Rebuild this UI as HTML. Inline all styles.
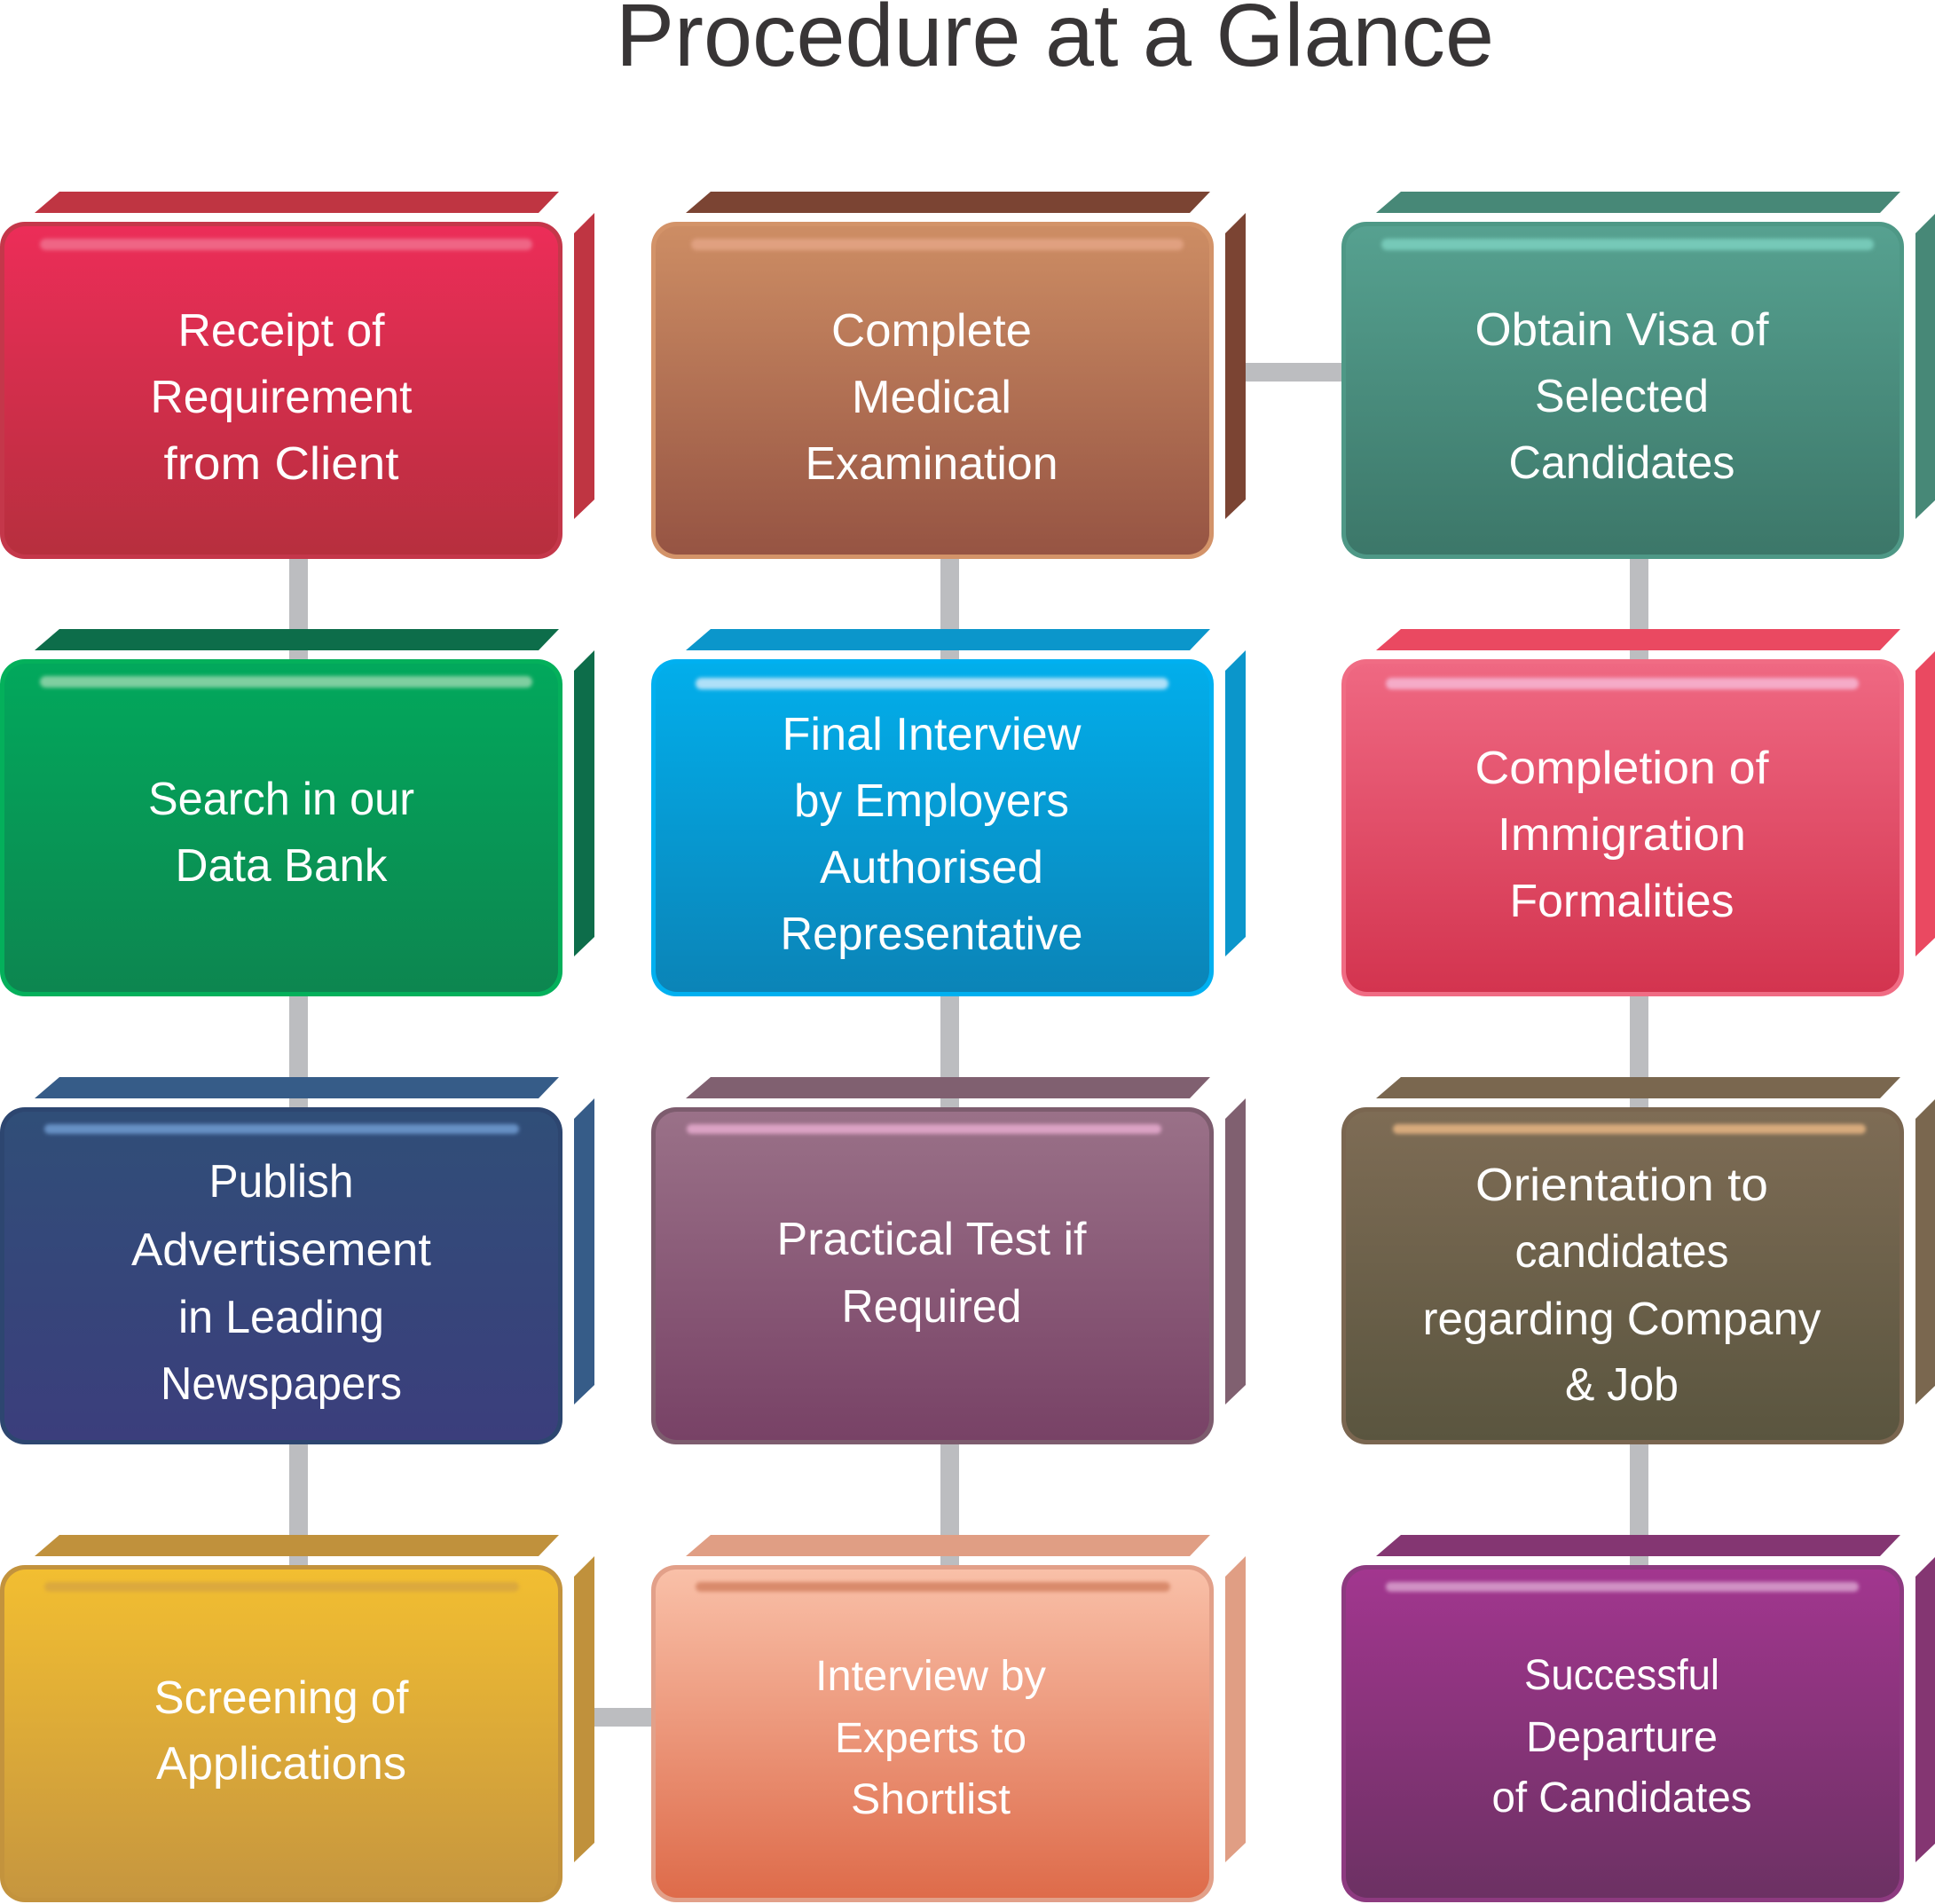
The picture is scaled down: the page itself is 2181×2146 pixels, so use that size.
<!DOCTYPE html>
<html>
<head>
<meta charset="utf-8">
<style>
  html, body { margin: 0; padding: 0; background: #ffffff; }
  svg { display: block; }
  .t { font-family: "Liberation Sans", "DejaVu Sans", sans-serif; fill: #ffffff; text-anchor: middle; }
</style>
</head>
<body>
<svg width="2181" height="2146" viewBox="0 0 2181 2146" xmlns="http://www.w3.org/2000/svg">
  <defs>
    <filter id="blur" x="-5%" y="-100%" width="110%" height="300%">
      <feGaussianBlur stdDeviation="2.2"/>
    </filter>
    <linearGradient id="g1" x1="0" y1="0" x2="0" y2="1"><stop offset="0" stop-color="#ec2d58"/><stop offset="1" stop-color="#b72f3e"/></linearGradient>
    <linearGradient id="g2" x1="0" y1="0" x2="0" y2="1"><stop offset="0" stop-color="#cd8d64"/><stop offset="1" stop-color="#965443"/></linearGradient>
    <linearGradient id="g3" x1="0" y1="0" x2="0" y2="1"><stop offset="0" stop-color="#56a190"/><stop offset="1" stop-color="#3c7769"/></linearGradient>
    <linearGradient id="g4" x1="0" y1="0" x2="0" y2="1"><stop offset="0" stop-color="#02a85c"/><stop offset="1" stop-color="#0d8650"/></linearGradient>
    <linearGradient id="g5" x1="0" y1="0" x2="0" y2="1"><stop offset="0" stop-color="#02aeeb"/><stop offset="1" stop-color="#0b84b7"/></linearGradient>
    <linearGradient id="g6" x1="0" y1="0" x2="0" y2="1"><stop offset="0" stop-color="#ef6882"/><stop offset="1" stop-color="#d3344f"/></linearGradient>
    <linearGradient id="g7" x1="0" y1="0" x2="0" y2="1"><stop offset="0" stop-color="#304e78"/><stop offset="1" stop-color="#3b3e7c"/></linearGradient>
    <linearGradient id="g8" x1="0" y1="0" x2="0" y2="1"><stop offset="0" stop-color="#9a7188"/><stop offset="1" stop-color="#784266"/></linearGradient>
    <linearGradient id="g9" x1="0" y1="0" x2="0" y2="1"><stop offset="0" stop-color="#7e6c55"/><stop offset="1" stop-color="#5a553f"/></linearGradient>
    <linearGradient id="g10" x1="0" y1="0" x2="0" y2="1"><stop offset="0" stop-color="#f2be31"/><stop offset="1" stop-color="#c6963f"/></linearGradient>
    <linearGradient id="g11" x1="0" y1="0" x2="0" y2="1"><stop offset="0" stop-color="#f9c0a8"/><stop offset="1" stop-color="#de6b4a"/></linearGradient>
    <linearGradient id="g12" x1="0" y1="0" x2="0" y2="1"><stop offset="0" stop-color="#a2368f"/><stop offset="1" stop-color="#6c3163"/></linearGradient>
  </defs>

  <!-- Title -->
  <text x="1189" y="74" font-family="'Liberation Sans', Arial, sans-serif" font-size="100" text-anchor="middle" textLength="990" lengthAdjust="spacingAndGlyphs" fill="#383536">Procedure at a Glance</text>

  <!-- Connectors -->
  <g fill="#bcbdc0">
    <rect x="326" y="620" width="21" height="1150"/>
    <rect x="1060" y="620" width="21" height="1150"/>
    <rect x="1837" y="620" width="21" height="1150"/>
    <rect x="1395" y="409" width="125" height="21"/>
    <rect x="660" y="1925" width="80" height="21"/>
  </g>

  <!-- R1C1 -->
  <g transform="translate(0,250)">
    <polygon points="67,-34 630,-34 607,-10 39,-10" fill="#bf3542"/>
    <polygon points="647,13 670,-10 670,313 647,335" fill="#bf3542"/>
    <rect x="0" y="0" width="634" height="380" rx="28" fill="#c4374a"/>
    <rect x="5" y="5" width="624" height="370" rx="24" fill="url(#g1)"/>
    <rect x="45" y="19" width="555" height="13" rx="6.5" fill="#ef6585" filter="url(#blur)"/>
    <text class="t" font-size="52" x="317" y="140" textLength="233" lengthAdjust="spacingAndGlyphs">Receipt of</text>
    <text class="t" font-size="52" x="317" y="215" textLength="295" lengthAdjust="spacingAndGlyphs">Requirement</text>
    <text class="t" font-size="52" x="317" y="290" textLength="265" lengthAdjust="spacingAndGlyphs">from Client</text>
  </g>

  <!-- R1C2 -->
  <g transform="translate(734,250)">
    <polygon points="67,-34 630,-34 607,-10 39,-10" fill="#7b4433"/>
    <polygon points="647,13 670,-10 670,313 647,335" fill="#7b4433"/>
    <rect x="0" y="0" width="634" height="380" rx="28" fill="#d39369"/>
    <rect x="5" y="5" width="624" height="370" rx="24" fill="url(#g2)"/>
    <rect x="45" y="19" width="555" height="13" rx="6.5" fill="#e0a080" filter="url(#blur)"/>
    <text class="t" font-size="52" x="316" y="140" textLength="226" lengthAdjust="spacingAndGlyphs">Complete</text>
    <text class="t" font-size="52" x="316" y="215" textLength="180" lengthAdjust="spacingAndGlyphs">Medical</text>
    <text class="t" font-size="52" x="316" y="290" textLength="285" lengthAdjust="spacingAndGlyphs">Examination</text>
  </g>

  <!-- R1C3 -->
  <g transform="translate(1512,250)">
    <polygon points="67,-34 630,-34 607,-10 39,-10" fill="#478877"/>
    <polygon points="647,13 670,-10 670,313 647,335" fill="#478877"/>
    <rect x="0" y="0" width="634" height="380" rx="28" fill="#4e9886"/>
    <rect x="5" y="5" width="624" height="370" rx="24" fill="url(#g3)"/>
    <rect x="45" y="19" width="555" height="13" rx="6.5" fill="#76c9b8" filter="url(#blur)"/>
    <text class="t" font-size="52" x="316" y="139" textLength="331" lengthAdjust="spacingAndGlyphs">Obtain Visa of</text>
    <text class="t" font-size="52" x="316" y="214" textLength="196" lengthAdjust="spacingAndGlyphs">Selected</text>
    <text class="t" font-size="52" x="316" y="289" textLength="255" lengthAdjust="spacingAndGlyphs">Candidates</text>
  </g>

  <!-- R2C1 -->
  <g transform="translate(0,743)">
    <polygon points="67,-34 630,-34 607,-10 39,-10" fill="#0d6d4a"/>
    <polygon points="647,13 670,-10 670,313 647,335" fill="#0d6d4a"/>
    <rect x="0" y="0" width="634" height="380" rx="28" fill="#04b05b"/>
    <rect x="5" y="5" width="624" height="370" rx="24" fill="url(#g4)"/>
    <rect x="45" y="19" width="555" height="13" rx="6.5" fill="#7fcfa0" filter="url(#blur)"/>
    <text class="t" font-size="52" x="317" y="175" textLength="300" lengthAdjust="spacingAndGlyphs">Search in our</text>
    <text class="t" font-size="52" x="317" y="250" textLength="239" lengthAdjust="spacingAndGlyphs">Data Bank</text>
  </g>

  <!-- R2C2 -->
  <g transform="translate(734,743)">
    <polygon points="67,-34 630,-34 607,-10 39,-10" fill="#0b96cb"/>
    <polygon points="647,13 670,-10 670,313 647,335" fill="#0b96cb"/>
    <rect x="0" y="0" width="634" height="380" rx="28" fill="#00b0f0"/>
    <rect x="5" y="5" width="624" height="370" rx="24" fill="url(#g5)"/>
    <rect x="50" y="21" width="533" height="13" rx="6.5" fill="#aee0f8" filter="url(#blur)"/>
    <text class="t" font-size="52" x="316" y="102" textLength="337" lengthAdjust="spacingAndGlyphs">Final Interview</text>
    <text class="t" font-size="52" x="316" y="177" textLength="310" lengthAdjust="spacingAndGlyphs">by Employers</text>
    <text class="t" font-size="52" x="316" y="252" textLength="252" lengthAdjust="spacingAndGlyphs">Authorised</text>
    <text class="t" font-size="52" x="316" y="327" textLength="341" lengthAdjust="spacingAndGlyphs">Representative</text>
  </g>

  <!-- R2C3 -->
  <g transform="translate(1512,743)">
    <polygon points="67,-34 630,-34 607,-10 39,-10" fill="#ea4961"/>
    <polygon points="647,13 670,-10 670,313 647,335" fill="#ea4961"/>
    <rect x="0" y="0" width="634" height="380" rx="28" fill="#f06c84"/>
    <rect x="5" y="5" width="624" height="370" rx="24" fill="url(#g6)"/>
    <rect x="50" y="21" width="533" height="13" rx="6.5" fill="#f5abc8" filter="url(#blur)"/>
    <text class="t" font-size="52" x="316" y="140" textLength="331" lengthAdjust="spacingAndGlyphs">Completion of</text>
    <text class="t" font-size="52" x="316" y="215" textLength="280" lengthAdjust="spacingAndGlyphs">Immigration</text>
    <text class="t" font-size="52" x="316" y="290" textLength="253" lengthAdjust="spacingAndGlyphs">Formalities</text>
  </g>

  <!-- R3C1 -->
  <g transform="translate(0,1248)">
    <polygon points="67,-34 630,-34 607,-10 39,-10" fill="#365c88"/>
    <polygon points="647,13 670,-10 670,313 647,335" fill="#365c88"/>
    <rect x="0" y="0" width="634" height="380" rx="28" fill="#2d4670"/>
    <rect x="5" y="5" width="624" height="370" rx="24" fill="url(#g7)"/>
    <rect x="50" y="19" width="535" height="11" rx="5.5" fill="#6690c4" filter="url(#blur)"/>
    <text class="t" font-size="52" x="317" y="101" textLength="163" lengthAdjust="spacingAndGlyphs">Publish</text>
    <text class="t" font-size="52" x="317" y="178" textLength="338" lengthAdjust="spacingAndGlyphs">Advertisement</text>
    <text class="t" font-size="52" x="317" y="254" textLength="232" lengthAdjust="spacingAndGlyphs">in Leading</text>
    <text class="t" font-size="52" x="317" y="329" textLength="272" lengthAdjust="spacingAndGlyphs">Newspapers</text>
  </g>

  <!-- R3C2 -->
  <g transform="translate(734,1248)">
    <polygon points="67,-34 630,-34 607,-10 39,-10" fill="#806070"/>
    <polygon points="647,13 670,-10 670,313 647,335" fill="#806070"/>
    <rect x="0" y="0" width="634" height="380" rx="28" fill="#7d5c6e"/>
    <rect x="5" y="5" width="624" height="370" rx="24" fill="url(#g8)"/>
    <rect x="40" y="19" width="535" height="11" rx="5.5" fill="#dba2c4" filter="url(#blur)"/>
    <text class="t" font-size="52" x="316" y="166" textLength="349" lengthAdjust="spacingAndGlyphs">Practical Test if</text>
    <text class="t" font-size="52" x="316" y="242" textLength="203" lengthAdjust="spacingAndGlyphs">Required</text>
  </g>

  <!-- R3C3 -->
  <g transform="translate(1512,1248)">
    <polygon points="67,-34 630,-34 607,-10 39,-10" fill="#7a674f"/>
    <polygon points="647,13 670,-10 670,313 647,335" fill="#7a674f"/>
    <rect x="0" y="0" width="634" height="380" rx="28" fill="#7a6650"/>
    <rect x="5" y="5" width="624" height="370" rx="24" fill="url(#g9)"/>
    <rect x="58" y="19" width="533" height="11" rx="5.5" fill="#d8aa7c" filter="url(#blur)"/>
    <text class="t" font-size="52" x="316" y="105" textLength="330" lengthAdjust="spacingAndGlyphs">Orientation to</text>
    <text class="t" font-size="52" x="316" y="180" textLength="241" lengthAdjust="spacingAndGlyphs">candidates</text>
    <text class="t" font-size="52" x="316" y="256" textLength="449" lengthAdjust="spacingAndGlyphs">regarding Company</text>
    <text class="t" font-size="52" x="316" y="330" textLength="128" lengthAdjust="spacingAndGlyphs">&amp; Job</text>
  </g>

  <!-- R4C1 -->
  <g transform="translate(0,1764)">
    <polygon points="67,-34 630,-34 607,-10 39,-10" fill="#c0913c"/>
    <polygon points="647,13 670,-10 670,313 647,335" fill="#c0913c"/>
    <rect x="0" y="0" width="634" height="380" rx="28" fill="#c3933d"/>
    <rect x="5" y="5" width="624" height="370" rx="24" fill="url(#g10)"/>
    <rect x="50" y="19" width="535" height="11" rx="5.5" fill="#dba93c" filter="url(#blur)"/>
    <text class="t" font-size="52" x="317" y="167" textLength="287" lengthAdjust="spacingAndGlyphs">Screening of</text>
    <text class="t" font-size="52" x="317" y="241" textLength="282" lengthAdjust="spacingAndGlyphs">Applications</text>
  </g>

  <!-- R4C2 -->
  <g transform="translate(734,1764)">
    <polygon points="67,-34 630,-34 607,-10 39,-10" fill="#e09e84"/>
    <polygon points="647,13 670,-10 670,313 647,335" fill="#e09e84"/>
    <rect x="0" y="0" width="634" height="380" rx="28" fill="#e2a089"/>
    <rect x="5" y="5" width="624" height="370" rx="24" fill="url(#g11)"/>
    <rect x="50" y="19" width="535" height="11" rx="5.5" fill="#d98a6c" filter="url(#blur)"/>
    <text class="t" font-size="48" x="315" y="141" textLength="260" lengthAdjust="spacingAndGlyphs">Interview by</text>
    <text class="t" font-size="48" x="315" y="211" textLength="216" lengthAdjust="spacingAndGlyphs">Experts to</text>
    <text class="t" font-size="48" x="315" y="280" textLength="180" lengthAdjust="spacingAndGlyphs">Shortlist</text>
  </g>

  <!-- R4C3 -->
  <g transform="translate(1512,1764)">
    <polygon points="67,-34 630,-34 607,-10 39,-10" fill="#843672"/>
    <polygon points="647,13 670,-10 670,313 647,335" fill="#843672"/>
    <rect x="0" y="0" width="634" height="380" rx="28" fill="#8d3a80"/>
    <rect x="5" y="5" width="624" height="370" rx="24" fill="url(#g12)"/>
    <rect x="50" y="19" width="533" height="11" rx="5.5" fill="#d090c4" filter="url(#blur)"/>
    <text class="t" font-size="48" x="316" y="140" textLength="220" lengthAdjust="spacingAndGlyphs">Successful</text>
    <text class="t" font-size="48" x="316" y="210" textLength="216" lengthAdjust="spacingAndGlyphs">Departure</text>
    <text class="t" font-size="48" x="316" y="278" textLength="293" lengthAdjust="spacingAndGlyphs">of Candidates</text>
  </g>
</svg>
</body>
</html>
